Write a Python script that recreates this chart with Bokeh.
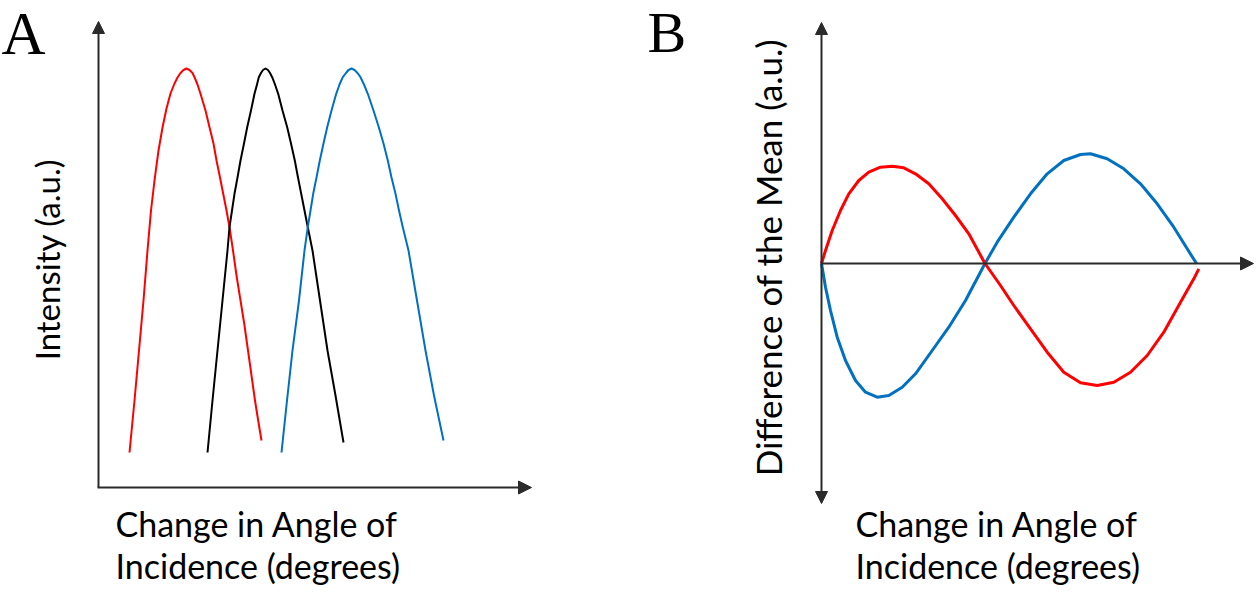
from bokeh.plotting import figure
from bokeh.layouts import row
from bokeh.models import Range1d, Arrow, NormalHead, Label
from bokeh.embed import file_html
from bokeh.resources import INLINE
import math

# ---------------- Panel A data (angle offset, intensity a.u.) ----------------
red_angle = [31, 36, 40.5, 45, 49, 52.5, 56, 60, 64, 68, 72, 76, 79, 82, 85, 88,
             91, 94, 96, 99, 102, 107, 111, 115, 118, 121.5, 124.7, 128, 131, 134.5,
             138, 142, 146, 149.5, 153, 156.5, 160, 163]
red_intensity = [35, 87, 137, 187, 237, 277, 307, 337, 360, 379, 394, 404, 410, 414.5, 417.5, 419,
                 417.5, 414.5, 410.3, 403, 393.7, 377, 360.3, 344, 327, 310, 293.7, 277, 260.3, 237,
                 212, 187, 162, 137, 112, 87, 65, 47]

black_angle = [109, 114, 119, 124, 129, 131, 133.5, 136, 139, 142, 145.5, 148.7, 152.5, 156,
               158.5, 160.3, 162.5, 164.5, 167,
               169.5, 171.5, 173.7, 176.5, 179.7, 184, 188.7, 192.5, 196.3, 199.5, 202.7, 206,
               209.3, 214, 221.5, 229, 237, 245]
black_intensity = [35, 87, 137, 187, 237, 260.3, 277, 293.7, 310, 327, 344, 360.3, 377, 393.7,
                   403, 410.3, 414.5, 417.5, 419,
                   417.5, 414.5, 410.3, 403, 393.7, 377, 360.3, 344, 327, 310, 293.7, 277,
                   260.3, 237, 187, 137, 92, 45]

blue_angle = [183, 188.5, 194, 200.5, 206, 209.3, 212, 214.7, 218, 221.3, 225, 228.7, 233, 237.7,
              241, 244.3, 247.5, 250, 253,
              256, 259, 262, 265.5, 269.3, 275, 280.3, 285, 289.3, 293, 297, 300.5, 304.3,
              310, 318.5, 327, 335.5, 345]
blue_intensity = [35, 87, 137, 187, 237, 260.3, 277, 293.7, 310, 327, 344, 360.3, 377, 393.7,
                  403, 410.3, 414.5, 417.5, 419,
                  417.5, 414.5, 410.3, 403, 393.7, 377, 360.3, 344, 327, 310, 293.7, 277, 260.3,
                  237, 187, 137, 92, 47]

# ---------------- Panel B data (angle offset, difference of the mean a.u.) ----------------
b_red_angle = [0, 4, 10.7, 19, 27.3, 37.3, 47.3, 59, 70.7, 82.3, 94, 107.3, 120.7, 134, 147.3,
               163.5, 179, 192.3, 209, 225.7, 242.3, 259, 275.7, 292.3, 309, 325.7, 342.3, 359,
               372.3, 377.3]
b_red_diff = [0, 13, 33, 53, 69.7, 83, 91.3, 96.3, 97.3, 95.7, 89.7, 79.7, 64.7, 48, 29.7,
              0, -22, -42, -65.3, -88.7, -108.7, -119.3, -122, -118.7, -108.7, -92, -68.7, -38.7,
              -15.3, -5.3]

b_blue_angle = [0, 4, 9, 15.7, 24, 34, 44, 55.7, 67.3, 80.7, 94, 110.7, 127.3, 144,
                163.5, 175.7, 192.3, 209, 225.7, 242.3, 259, 269, 285.7, 302.3, 319, 335.7, 352.3,
                365.7, 375]
b_blue_diff = [0, -23.7, -47, -73.7, -97, -117, -128.7, -133.7, -132, -123.7, -110.3, -87, -63.7,
               -37, 0, 21.3, 46.3, 69.7, 89.7, 103, 109, 109.7, 104.7, 94.7, 79.7, 59.7,
               36.3, 14.7, 0]

panel_titles = ["A", "B"]
xlabel_lines = ["Change in Angle of", "Incidence (degrees)"]
ylabel_a = "Intensity (a.u.)"
ylabel_b = "Difference of the Mean (a.u.)"

RED = "#ff0000"
BLUE = "#0070c0"
BLACK = "#000000"
AXIS = "#2b2b2b"
SANS = "Lato"
SERIF = "Liberation Serif"


def base_fig(w, h, xr, yr):
    p = figure(width=w, height=h, x_range=Range1d(*xr), y_range=Range1d(*yr),
               output_backend="svg", toolbar_location=None, min_border=0,
               background_fill_color="white", border_fill_color="white")
    p.axis.visible = False
    p.grid.visible = False
    p.outline_line_color = None
    return p


def text_label(p, x, y, text, font, size, angle=0.0, align="left"):
    p.add_layout(Label(x=x, y=y, text=text, text_font=font, text_font_size=size,
                       angle=angle, text_align=align, text_baseline="alphabetic",
                       text_color="black"))


# ---------------- Panel A ----------------
pa = base_fig(636, 593, (-98, 538), (-106, 487))
pa.line(red_angle, red_intensity, line_color=RED, line_width=2, line_join="round")
pa.line(black_angle, black_intensity, line_color=BLACK, line_width=2, line_join="round")
pa.line(blue_angle, blue_intensity, line_color=BLUE, line_width=2, line_join="round")

pa.add_layout(Arrow(end=NormalHead(size=12, fill_color=AXIS, line_color=AXIS),
                    x_start=0, y_start=0, x_end=0, y_end=466,
                    line_color=AXIS, line_width=2))
pa.add_layout(Arrow(end=NormalHead(size=13, fill_color=AXIS, line_color=AXIS),
                    x_start=-1, y_start=0, x_end=433, y_end=0,
                    line_color=AXIS, line_width=2))

text_label(pa, -97, 454, panel_titles[0], SERIF, "61px")
text_label(pa, -52, 228, ylabel_a, SANS, "33px", angle=math.pi / 2, align="center")
text_label(pa, 17, -35.5, xlabel_lines[0], SANS, "34px")
text_label(pa, 17, -77.5, xlabel_lines[1], SANS, "34px")

# ---------------- Panel B ----------------
pb = base_fig(624, 593, (-185, 439), (-330, 263))
pb.line(b_blue_angle, b_blue_diff, line_color=BLUE, line_width=3, line_join="round")
pb.line(b_red_angle, b_red_diff, line_color=RED, line_width=3, line_join="round")

pb.add_layout(Arrow(start=NormalHead(size=12, fill_color=AXIS, line_color=AXIS),
                    end=NormalHead(size=12, fill_color=AXIS, line_color=AXIS),
                    x_start=0, y_start=-240, x_end=0, y_end=241,
                    line_color=AXIS, line_width=2))
pb.add_layout(Arrow(end=NormalHead(size=13, fill_color=AXIS, line_color=AXIS),
                    x_start=0, y_start=0, x_end=432, y_end=0,
                    line_color=AXIS, line_width=2))

text_label(pb, -174, 230.6, panel_titles[1], SERIF, "58px")
text_label(pb, -54, 6, ylabel_b, SANS, "35px", angle=math.pi / 2, align="center")
text_label(pb, 34, -259.5, xlabel_lines[0], SANS, "34px")
text_label(pb, 34, -301.5, xlabel_lines[1], SANS, "34px")

layout = row(pa, pb)
open("out.html", "w").write(file_html(layout, INLINE))
